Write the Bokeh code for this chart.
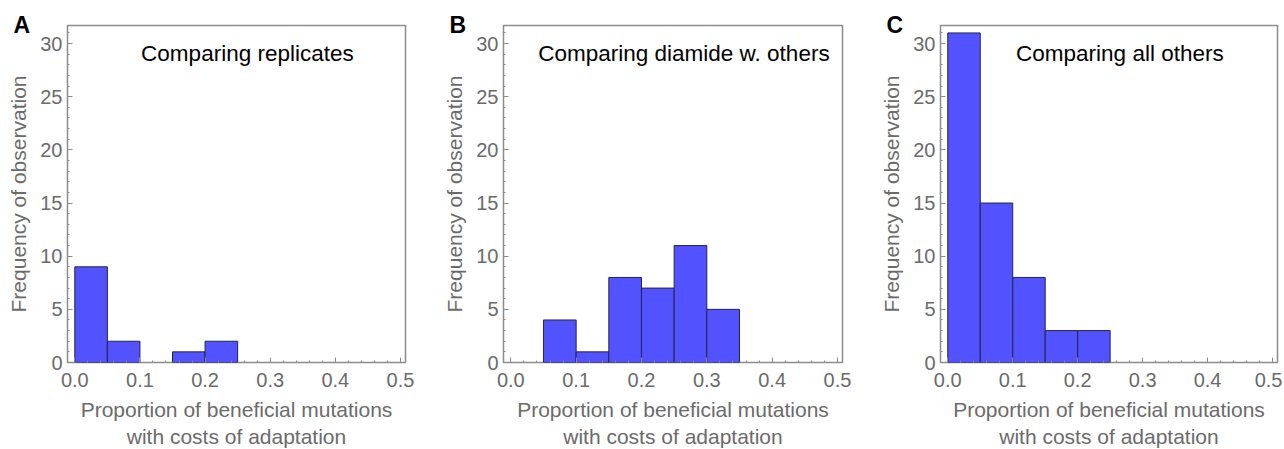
from bokeh.plotting import figure
from bokeh.layouts import row
from bokeh.models import Label, ColumnDataSource, Range1d, FixedTicker, PrintfTickFormatter
from bokeh.embed import file_html
from bokeh.resources import INLINE

# ---- data ----
bin_left = [0.00, 0.05, 0.10, 0.15, 0.20, 0.25, 0.30, 0.35, 0.40, 0.45]
bin_right = [0.05, 0.10, 0.15, 0.20, 0.25, 0.30, 0.35, 0.40, 0.45, 0.50]
counts_a = [9, 2, 0, 1, 2, 0, 0, 0, 0, 0]
counts_b = [0, 4, 1, 8, 7, 11, 5, 0, 0, 0]
counts_c = [31, 15, 8, 3, 3, 0, 0, 0, 0, 0]

panel_letters = ["A", "B", "C"]
panel_titles = ["Comparing replicates", "Comparing diamide w. others", "Comparing all others"]
x_ticks = [0.0, 0.1, 0.2, 0.3, 0.4, 0.5]
y_ticks = [0, 5, 10, 15, 20, 25, 30]
x_label = "Proportion of beneficial mutations\nwith costs of adaptation"
y_label = "Frequency of observation"

FONT = "Liberation Sans"
GRAY_TXT = "#6b6b6b"
FRAME = "#8c8c8c"
BAR_FILL = "#5252ff"
BAR_EDGE = "#23234a"

X0, X1 = -0.0112, 0.5077
Y0, Y1 = 0.0, 31.7


def panel(letter, title, counts, bl, br, fw):
    p = figure(frame_width=fw, frame_height=337, min_border_left=bl, min_border_right=br,
               min_border_top=25, min_border_bottom=80,
               x_range=Range1d(X0, X1), y_range=Range1d(Y0, Y1),
               output_backend="svg", toolbar_location=None)
    p.xgrid.visible = False
    p.ygrid.visible = False
    p.outline_line_color = FRAME
    p.outline_line_width = 1.5
    p.background_fill_color = "white"
    p.border_fill_color = "white"

    # panel letter as the figure title, pulled left and down next to the frame
    p.title.text = letter
    p.title.align = "left"
    p.title.offset = -54
    p.title.standoff = -24
    p.title.vertical_align = "bottom"
    p.title.text_font = FONT
    p.title.text_font_size = "23px"
    p.title.text_font_style = "bold"
    p.title.text_color = "black"

    l = [a for a, c in zip(bin_left, counts) if c > 0]
    r = [b for b, c in zip(bin_right, counts) if c > 0]
    t = [c for c in counts if c > 0]
    src = ColumnDataSource(dict(left=l, right=r, top=t, bottom=[0] * len(t)))
    p.quad(left="left", right="right", top="top", bottom="bottom", source=src,
           fill_color=BAR_FILL, line_color=BAR_EDGE, line_width=1)

    for ax in (p.xaxis[0], p.yaxis[0]):
        ax.axis_line_color = None
        ax.major_tick_in = 5
        ax.major_tick_out = 0
        ax.minor_tick_in = 2
        ax.minor_tick_out = 0
        ax.major_tick_line_color = FRAME
        ax.minor_tick_line_color = FRAME
        ax.major_label_text_color = GRAY_TXT
        ax.major_label_text_font = FONT
        ax.major_label_text_font_size = "20px"
        ax.axis_label_text_color = GRAY_TXT
        ax.axis_label_text_font = FONT
        ax.axis_label_text_font_size = "21px"
        ax.axis_label_text_font_style = "normal"

    p.xaxis[0].ticker = FixedTicker(ticks=x_ticks,
                                    minor_ticks=[i * 0.02 for i in range(26)])
    p.xaxis[0].formatter = PrintfTickFormatter(format="%.1f")
    p.xaxis[0].major_label_standoff = 10
    p.xaxis[0].axis_label = x_label
    p.xaxis[0].axis_label_standoff = 8

    p.yaxis[0].ticker = FixedTicker(ticks=y_ticks, minor_ticks=list(range(0, 32)))
    p.yaxis[0].major_label_standoff = 5
    p.yaxis[0].axis_label = y_label
    p.yaxis[0].axis_label_standoff = 7

    p.add_layout(Label(x=0.265, y=29.1, text=title, text_align="center",
                       text_baseline="alphabetic", text_font=FONT,
                       text_font_size="22.5px", text_color="black"))
    return p


pa = panel(panel_letters[0], panel_titles[0], counts_a, 67, 20, 338)
pb = panel(panel_letters[1], panel_titles[1], counts_b, 78, 20, 339)
pc = panel(panel_letters[2], panel_titles[2], counts_c, 78, 5, 337)

layout = row(pa, pb, pc)
open("out.html", "w").write(file_html(layout, INLINE))
